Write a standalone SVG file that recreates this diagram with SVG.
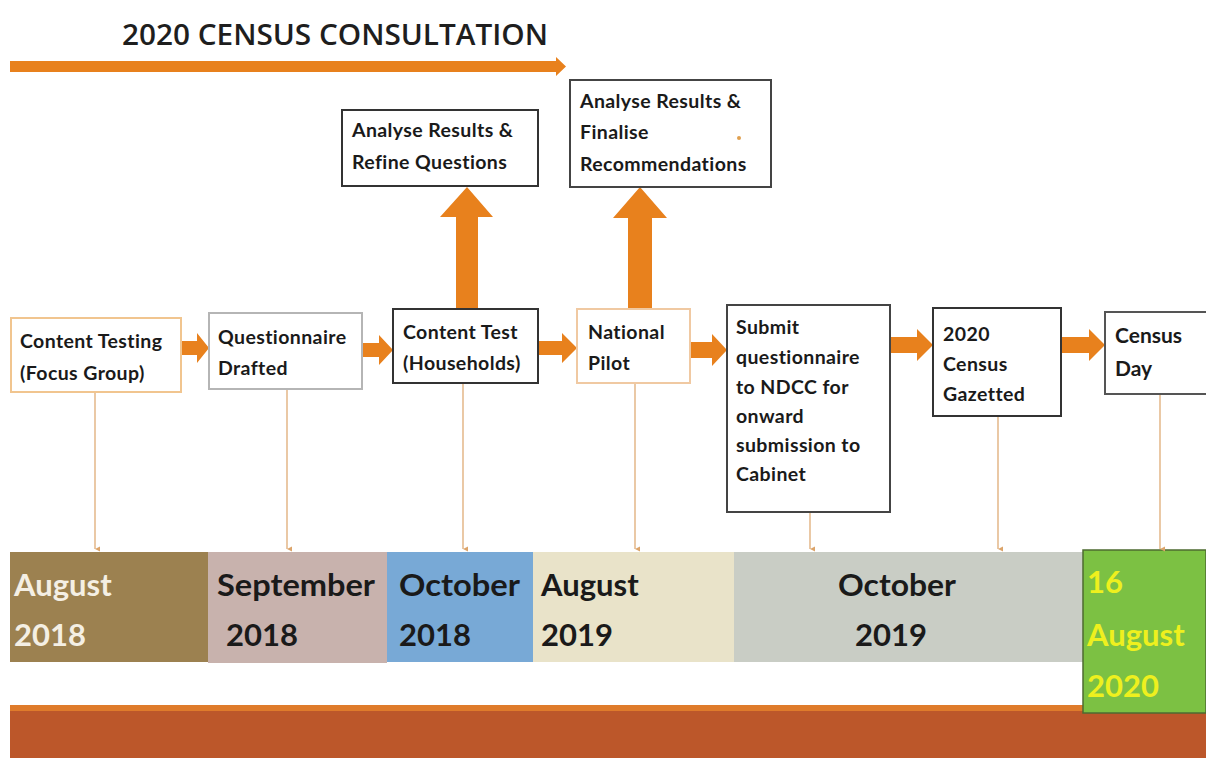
<svg xmlns="http://www.w3.org/2000/svg" width="1206" height="758" viewBox="0 0 1206 758">
<style>
.t{font-family:Lato,"Open Sans","DejaVu Sans",sans-serif;font-weight:bold;fill:#1a1a1a}
.nt{font-size:19.5px;letter-spacing:0.4px}
.bar{font-size:31px}
.box{fill:#fff;stroke-width:2}
.vl{stroke:#dca46a;stroke-width:1.2;fill:none}
.ba{fill:#e8811d}
</style>
<defs>
<marker id="va" markerWidth="6" markerHeight="6" refX="3" refY="5" orient="auto" markerUnits="userSpaceOnUse"><path d="M0.5,0 L3,5 L5.5,0" fill="#dca46a"/></marker>
</defs>
<rect width="1206" height="758" fill="#fff"/>
<g id="title">
<text x="122" y="45" font-family="'Open Sans',Lato,sans-serif" font-weight="600" font-size="29" fill="#1e1e1e" textLength="426" lengthAdjust="spacingAndGlyphs">2020 CENSUS CONSULTATION</text>
<path class="ba" d="M10,61 L556,61 L556,57 L566,66.5 L556,76 L556,72 L10,72 Z"/>
</g>
<g id="timeline">
<rect x="10" y="552" width="198" height="110" fill="#9c8150"/>
<rect x="208" y="552" width="179" height="111" fill="#c8b2ad"/>
<rect x="387" y="552" width="146" height="110" fill="#78a9d6"/>
<rect x="533" y="552" width="201" height="110" fill="#e9e3c9"/>
<rect x="734" y="552" width="350" height="110" fill="#c9cdc5"/>
<rect x="10" y="705" width="1196" height="7" fill="#df7b2b"/>
<rect x="10" y="711" width="1196" height="47" fill="#bc572a"/>
<rect x="1083" y="550" width="123" height="163" fill="#7cc143" stroke="#4d6b30" stroke-width="1.5"/>
<text class="t bar" x="14" y="596" style="fill:#f4efe4">August</text>
<text class="t bar" x="14" y="646" style="fill:#f4efe4">2018</text>
<text class="t bar" x="217" y="596" textLength="158" lengthAdjust="spacingAndGlyphs">September</text>
<text class="t bar" x="226" y="646">2018</text>
<text class="t bar" x="399" y="596" textLength="121" lengthAdjust="spacingAndGlyphs">October</text>
<text class="t bar" x="399" y="646">2018</text>
<text class="t bar" x="541" y="596">August</text>
<text class="t bar" x="541" y="646">2019</text>
<text class="t bar" x="838" y="596" textLength="118" lengthAdjust="spacingAndGlyphs">October</text>
<text class="t bar" x="855" y="646">2019</text>
<text class="t bar" x="1087" y="593" style="fill:#eef01e">16</text>
<text class="t bar" x="1087" y="646" style="fill:#eef01e">August</text>
<text class="t bar" x="1087" y="697" style="fill:#eef01e">2020</text>
</g>
<g id="connectors">
<line class="vl" x1="95" y1="393" x2="95" y2="549" marker-end="url(#va)"/>
<line class="vl" x1="287" y1="390" x2="287" y2="549" marker-end="url(#va)"/>
<line class="vl" x1="463" y1="384" x2="463" y2="549" marker-end="url(#va)"/>
<line class="vl" x1="635" y1="384" x2="635" y2="549" marker-end="url(#va)"/>
<line class="vl" x1="810" y1="513" x2="810" y2="549" marker-end="url(#va)"/>
<line class="vl" x1="998" y1="417" x2="998" y2="549" marker-end="url(#va)"/>
<line class="vl" x1="1160" y1="395" x2="1160" y2="549" marker-end="url(#va)"/>
<path class="ba" d="M182,341 L197,341 L197,333 L209,348 L197,363 L197,355 L182,355 Z"/>
<path class="ba" d="M363,343 L379,343 L379,335 L393,350 L379,365 L379,357 L363,357 Z"/>
<path class="ba" d="M539,341 L562,341 L562,333 L577,348 L562,363 L562,355 L539,355 Z"/>
<path class="ba" d="M691,342 L712,342 L712,334 L727,350 L712,366 L712,358 L691,358 Z"/>
<path class="ba" d="M891,337 L917,337 L917,329 L933,345 L917,361 L917,353 L891,353 Z"/>
<path class="ba" d="M1062,337 L1089,337 L1089,329 L1105,345 L1089,361 L1089,353 L1062,353 Z"/>
<path class="ba" d="M456,309 L456,217 L440,217 L467,187 L493,217 L478,217 L478,309 Z"/>
<path class="ba" d="M628,309 L628,218 L613,218 L640,187 L667,218 L652,218 L652,309 Z"/>
</g>
<g id="n1"><rect class="box" x="11" y="318" width="170" height="74" stroke="#f1c58f"/>
<text class="t nt" x="20" y="348">Content Testing</text><text class="t nt" x="20" y="380">(Focus Group)</text></g>
<g id="n2"><rect class="box" x="209" y="313" width="153" height="76" stroke="#b5b5b5"/>
<text class="t nt" x="218" y="344">Questionnaire</text><text class="t nt" x="218" y="375">Drafted</text></g>
<g id="n3"><rect class="box" x="393" y="309" width="145" height="74" stroke="#333"/>
<text class="t nt" x="403" y="339">Content Test</text><text class="t nt" x="403" y="370">(Households)</text></g>
<g id="n4"><rect class="box" x="577" y="309" width="113" height="74" stroke="#f0c9a2"/>
<text class="t nt" x="588" y="339">National</text><text class="t nt" x="588" y="370">Pilot</text></g>
<g id="n5"><rect class="box" x="727" y="305" width="163" height="207" stroke="#444"/>
<text class="t nt" x="736" y="334">Submit</text><text class="t nt" x="736" y="364">questionnaire</text><text class="t nt" x="736" y="394">to NDCC for</text><text class="t nt" x="736" y="423">onward</text><text class="t nt" x="736" y="452">submission to</text><text class="t nt" x="736" y="481">Cabinet</text></g>
<g id="n6"><rect class="box" x="933" y="308" width="128" height="108" stroke="#333"/>
<text class="t nt" x="943" y="341">2020</text><text class="t nt" x="943" y="371">Census</text><text class="t nt" x="943" y="401">Gazetted</text></g>
<g id="n7"><rect class="box" x="1105" y="312" width="110" height="82" stroke="#555"/>
<text class="t" font-size="21" x="1115" y="343">Census</text><text class="t" font-size="21" x="1115" y="376">Day</text></g>
<g id="n8"><rect class="box" x="342" y="110" width="196" height="76" stroke="#333"/>
<text class="t nt" x="352" y="137">Analyse Results &amp;</text><text class="t nt" x="352" y="169">Refine Questions</text></g>
<g id="n9"><rect class="box" x="570" y="80" width="201" height="107" stroke="#444"/>
<text class="t nt" x="580" y="108">Analyse Results &amp;</text><text class="t nt" x="580" y="139">Finalise</text><text class="t nt" x="580" y="171">Recommendations</text>
<circle cx="739" cy="138" r="2" fill="#e0a050"/></g>
</svg>
